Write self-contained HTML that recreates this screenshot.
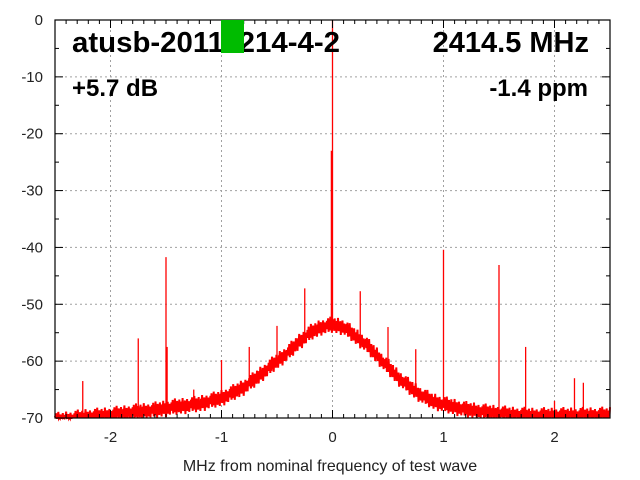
<!DOCTYPE html>
<html><head><meta charset="utf-8"><style>
body{margin:0;background:#fff}
svg{display:block;font-family:"Liberation Sans",sans-serif}
</style></head><body>
<svg id="c" width="640" height="480"></svg>
<script>
const envX=[-2.5,-2.2,-2.0,-1.8,-1.6,-1.4,-1.2,-1.0,-0.9,-0.8,-0.7,-0.6,-0.5,-0.4,-0.3,-0.2,-0.1,0,0.1,0.2,0.3,0.4,0.5,0.6,0.7,0.8,0.9,1.0,1.2,1.4,1.6,1.8,2.0,2.5];
const envY=[-70.5,-69.8,-69.5,-69,-68.6,-68,-67.5,-66.5,-65.6,-64.6,-63.2,-61.6,-60,-58.5,-56.6,-55,-54,-53.6,-54,-55.5,-57,-59,-61,-63,-64.6,-66,-67,-67.6,-68.5,-69,-69.4,-69.6,-69.6,-69.5];
const jitter=[0.9,-0.6,1.3,-1.1,0.3,-0.9,1.5,-0.3,0.6,-1.4,1.0,-0.4,0.2,-1.0,1.2,-0.7,0.4,-1.3,0.8,-0.2,1.4,-0.9,0.3,-0.6,0.9,-1.5,0.4,-0.3,1.1,-1.0,0.0,0.7,-1.2,0.6,-0.4];
const spikeX=[-2.25,-1.75,-1.5,-1.49,-1.25,-1.0,-0.75,-0.5,-0.25,-0.01,0,0.25,0.5,0.75,1.0,1.5,1.74,2.0,2.18,2.26];
const spikeY=[-63.5,-56,-41.7,-57.5,-65,-59.8,-57.5,-53.8,-47.2,-23,0,-47.7,-54,-57.9,-40.4,-43.1,-57.5,-67,-63,-63.8];
const xTicks=[-2,-1,0,1,2];
const yTicks=[0,-10,-20,-30,-40,-50,-60,-70];
const L=55,R=610,T=20,B=418;
const sx=v=>L+(v+2.5)/5*(R-L);
const sy=v=>T+(-v)/70*(B-T);
const svg=document.getElementById('c');
const NS='http://www.w3.org/2000/svg';
function mk(t,a,p){const e=document.createElementNS(NS,t);for(const k in a)e.setAttribute(k,a[k]);(p||svg).appendChild(e);return e;}
for(const t of xTicks){const g=mk('line',{x1:sx(t),x2:sx(t),y1:T,y2:B,stroke:'#a0a0a0','stroke-dasharray':'2,3'});

}
for(const t of yTicks){const g=mk('line',{x1:L,x2:R,y1:sy(t),y2:sy(t),stroke:'#a0a0a0','stroke-dasharray':'2,3'});

}
function env(x){for(let i=0;i<envX.length-1;i++){if(x<=envX[i+1]){const f=(x-envX[i])/(envX[i+1]-envX[i]);return envY[i]+f*(envY[i+1]-envY[i]);}}return envY[envY.length-1];}
let pts=[];let k=0;
for(let x=-2.5;x<=2.5001;x+=0.005){let v=env(x)+jitter[k%jitter.length];k++;v=Math.max(-70,Math.min(0,v));pts.push(sx(x).toFixed(1)+','+sy(v).toFixed(1));}
const noise=mk('polyline',{points:pts.join(' '),fill:'none',stroke:'#ff0000','stroke-width':2});


for(let i=0;i<spikeX.length;i++){const s=mk('line',{x1:sx(spikeX[i]),x2:sx(spikeX[i]),y1:sy(spikeY[i]),y2:sy(env(spikeX[i])),stroke:'#ff0000','stroke-width':1.3});

}
const fr=mk('rect',{x:L,y:T,width:R-L,height:B-T,fill:'none',stroke:'#000','stroke-width':1.2});


for(let v=-2.5;v<=2.5001;v+=0.1){const major=Math.abs(v-Math.round(v))<0.01;const h=major?8:4;
mk('line',{x1:sx(v),x2:sx(v),y1:B,y2:B-h,stroke:'#000'});mk('line',{x1:sx(v),x2:sx(v),y1:T,y2:T+h,stroke:'#000'});}
for(let v=0;v>=-70;v-=5){const major=v%10===0;const h=major?8:4;
mk('line',{x1:L,x2:L+h,y1:sy(v),y2:sy(v),stroke:'#000'});mk('line',{x1:R,x2:R-h,y1:sy(v),y2:sy(v),stroke:'#000'});}
for(const t of xTicks){const e=mk('text',{x:sx(t),y:B+24,'text-anchor':'middle','font-size':15,fill:'#222'});e.textContent=t;

}
for(const t of yTicks){const e=mk('text',{x:L-12,y:sy(t)+5,'text-anchor':'end','font-size':15,fill:'#222'});e.textContent=t;

}
</script>
<svg style="position:absolute;left:0;top:0" width="640" height="480">
<text x="72" y="52" font-size="29" font-weight="bold" textLength="268" lengthAdjust="spacingAndGlyphs" font-family="Liberation Sans,sans-serif">atusb-20111214-4-2</text>
<rect x="221" y="20" width="23" height="33" fill="#00bb00"/>
<text x="589" y="52" font-size="29" font-weight="bold" text-anchor="end" font-family="Liberation Sans,sans-serif">2414.5 MHz</text>
<text x="72" y="96" font-size="24" font-weight="bold" font-family="Liberation Sans,sans-serif">+5.7 dB</text>
<text x="588" y="96" font-size="24" font-weight="bold" text-anchor="end" font-family="Liberation Sans,sans-serif">-1.4 ppm</text>
<text x="330" y="471" font-size="16" text-anchor="middle" fill="#222" font-family="Liberation Sans,sans-serif">MHz from nominal frequency of test wave</text>
</svg>
</body></html>
